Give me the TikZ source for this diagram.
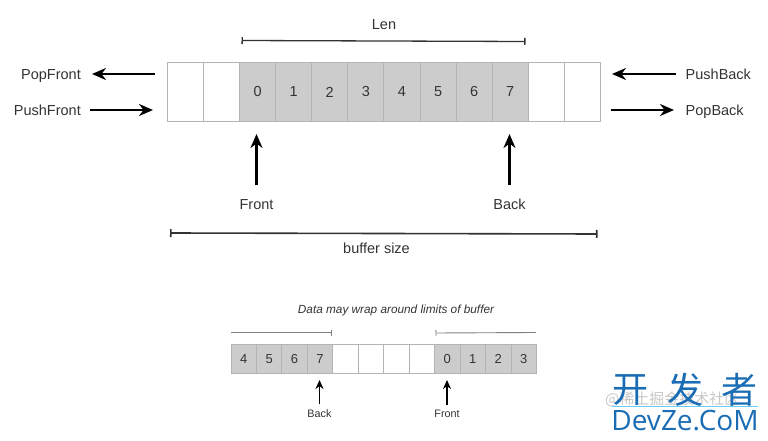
\documentclass[tikz,border=0pt]{standalone}
\usepackage{fontspec}
\setmainfont{Liberation Sans}
\newfontfamily\cjk{Noto Sans CJK SC}
\newfontfamily\markfont{Open Sans}
\usetikzlibrary{arrows.meta}
\definecolor{cellgray}{HTML}{CCCCCC}
\definecolor{edgegray}{HTML}{B4B4B4}
\definecolor{inkgray}{HTML}{333333}
\definecolor{markblue}{HTML}{1A6DB5}
\tikzset{
    bigcell/.style={draw=edgegray, line width=0.9pt, minimum width=36.1pt, minimum height=59pt, inner sep=0pt, text=inkgray, font=\fontsize{14.5}{16}\selectfont},
    smallcell/.style={draw=edgegray, line width=0.8pt, minimum width=25.45pt, minimum height=29pt, inner sep=0pt, text=inkgray, font=\fontsize{13}{15}\selectfont},
    biglabel/.style={text=inkgray, inner sep=0pt, text height=10pt, text depth=3pt, font=\fontsize{14.5}{16}\selectfont},
    smalllabel/.style={text=inkgray, inner sep=0pt, font=\fontsize{10.8}{12}\selectfont},
    bigarrow/.style={-{Stealth[length=14pt,width=12pt]}, line width=2.5pt, black},
    smallarrow/.style={-{Stealth[length=9pt,width=8pt]}, line width=1.8pt, black},
    spanline/.style={line width=1.3pt, inkgray},
    thinspan/.style={line width=0.9pt, gray}
}
\begin{document}
\begin{tikzpicture}[x=1pt,y=-1pt]
    \useasboundingbox (0,0) rectangle (768,441);
    % main buffer
    \foreach \i in {0,1,10,11}
        \node[bigcell, fill=white] (top\i) at ({185.35+36.1*\i},92) {};
    \foreach \i/\t in {2/0,3/1,4/2,5/3,6/4,7/5,8/6,9/7}
        \node[bigcell, fill=cellgray] (top\i) at ({185.35+36.1*\i},92) {\t};
    \node[biglabel] (len) at (384,26) {Len};
    \coordinate (lenL) at (241.5,40.5);
    \coordinate (lenR) at (525.5,41.5);
    \draw[spanline, {Bar[width=7pt]}-{Bar[width=7pt]}] (lenL) -- (lenR);
    % side operations
    \node[biglabel, anchor=east] (popfront) at (81,76.5) {PopFront};
    \node[biglabel, anchor=east] (pushfront) at (81,112) {PushFront};
    \node[biglabel, anchor=west] (pushback) at (685.5,76.5) {PushBack};
    \node[biglabel, anchor=west] (popback) at (685.5,112) {PopBack};
    \coordinate (popfrontA) at (155,74);
    \coordinate (popfrontB) at (92,74);
    \coordinate (pushfrontA) at (90,110);
    \coordinate (pushfrontB) at (153,110);
    \coordinate (pushbackA) at (675.5,74);
    \coordinate (pushbackB) at (612,74);
    \coordinate (popbackA) at (610.5,110);
    \coordinate (popbackB) at (674,110);
    \draw[bigarrow] (popfrontA) -- (popfrontB);
    \draw[bigarrow] (pushfrontA) -- (pushfrontB);
    \draw[bigarrow] (pushbackA) -- (pushbackB);
    \draw[bigarrow] (popbackA) -- (popbackB);
    % front and back
    \node[biglabel] (front) at (256.5,206) {Front};
    \node[biglabel] (back) at (509.5,206) {Back};
    \coordinate (frontTip) at (256.5,134);
    \coordinate (backTip) at (509.5,134);
    \draw[bigarrow] (front.north) ++(0,-14) -- (frontTip);
    \draw[bigarrow] (back.north) ++(0,-14) -- (backTip);
    \node[biglabel] (size) at (376.5,250) {buffer size};
    \coordinate (sizeL) at (170,233);
    \coordinate (sizeR) at (597.5,234);
    \draw[spanline, line width=1.6pt, {Bar[width=8pt]}-{Bar[width=8pt]}] (sizeL) -- (sizeR);
    % wrapped buffer
    \node[smalllabel, font=\itshape\fontsize{11.8}{13}\selectfont] (wrap) at (396,310.5) {Data may wrap around limits of buffer};
    \foreach \i in {4,5,6,7}
        \node[smallcell, fill=white] (low\i) at ({243.7+25.45*\i},359) {};
    \foreach \i/\t in {0/4,1/5,2/6,3/7,8/0,9/1,10/2,11/3}
        \node[smallcell, fill=cellgray] (low\i) at ({243.7+25.45*\i},359) {\t};
    \coordinate (wrapAL) at (231,332.5);
    \coordinate (wrapAR) at (331.5,332.5);
    \coordinate (wrapBL) at (435.5,333);
    \coordinate (wrapBR) at (536,332.5);
    \draw[thinspan, -{Bar[width=6pt]}] (wrapAL) -- (wrapAR);
    \draw[thinspan, {Bar[width=6pt]}-] (wrapBL) -- (wrapBR);
    \node[smalllabel] (lowback) at (319.5,413.5) {Back};
    \node[smalllabel] (lowfront) at (447,413.5) {Front};
    \coordinate (lowbackTip) at (319.5,380);
    \coordinate (lowfrontTip) at (447,380);
    \draw[smallarrow] (lowback.north) ++(0,-5) -- (lowbackTip);
    \draw[smallarrow] (lowfront.north) ++(0,-5) -- (lowfrontTip);
    % site marks
    \node[inner sep=0pt, anchor=west, text=black!22, font=\cjk\fontsize{15}{16}\selectfont] (grey) at (605,399) {@稀土掘金技术社区};
    \node[inner sep=0pt, text=markblue, font=\cjk\fontsize{36}{38}\selectfont] (kai) at (630.5,390) {开};
    \node[inner sep=0pt, text=markblue, font=\cjk\fontsize{36}{38}\selectfont] (fa) at (685,390) {发};
    \node[inner sep=0pt, text=markblue, font=\cjk\fontsize{36}{38}\selectfont] (zhe) at (739.5,390) {者};
    \coordinate (markL) at (612,406.5);
    \coordinate (markR) at (758,406.5);
    \draw[cyan!60, line width=0.6pt] (markL) -- (markR);
    \node[inner sep=0pt, text=markblue, font=\markfont\fontsize{28}{30}\selectfont] (site) at (685,420.5) {DevZe.CoM};
\end{tikzpicture}
\end{document}
